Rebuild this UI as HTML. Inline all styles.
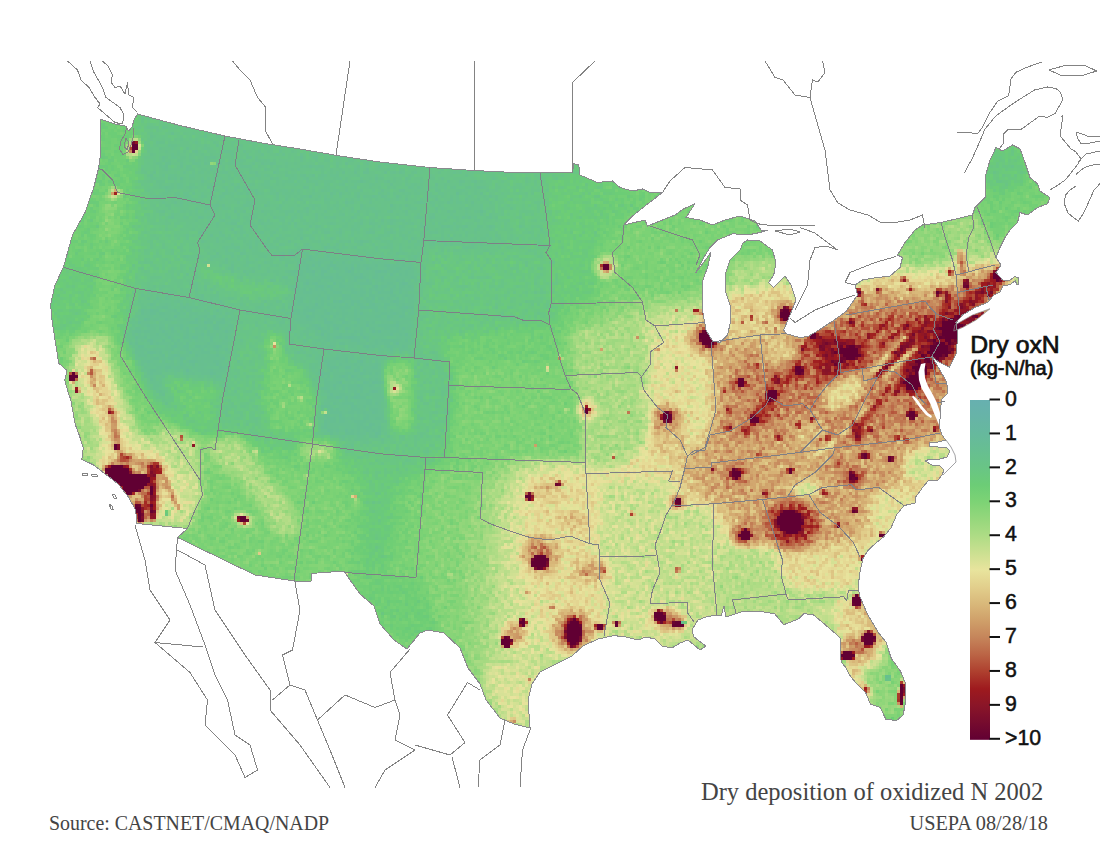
<!DOCTYPE html>
<html><head><meta charset="utf-8"><title>Dry deposition of oxidized N 2002</title>
<style>
html,body{margin:0;padding:0;background:#fff;}
body{width:1100px;height:850px;overflow:hidden;position:relative;font-family:"Liberation Sans",sans-serif;}
svg{position:absolute;left:0;top:0;display:block}
.serif{font-family:"Liberation Serif",serif;fill:#444}
.sans{font-family:"Liberation Sans",sans-serif;fill:#111}
</style></head><body>
<svg width="1100" height="850" viewBox="0 0 1100 850">
<defs>
<clipPath id="us"><path d="M100 119 L106 121 L115 124 L125 126 L129 131 L132 127 L134 120 L137.5 114 L180 125.5 L225 136 L262 143 L300 149 L340 156 L380 162 L430 167.5 L473.75 170.5 L510 172.3 L540 173 L572.5 172.5 L573.75 163.75 L578.75 165 L580 175 L597.5 182.5 L612.5 181 L620 187.5 L632.5 191 L642.5 189 L650 192.5 L662.5 192.5 L645 206 L632.5 216 L623.75 225 L645 220 L647.5 226 L660 221 L675 215 L683.75 208.75 L695 203.75 L686 217.5 L700 220 L712.5 225 L725 220 L740 216 L755 221 L761 230 L767.5 230 L760 232.5 L747.5 235 L732.5 233.75 L717.5 240 L710 247.5 L703.75 257.5 L696 272.5 L704 262 L711 252 L708 266 L703 280 L702.5 290 L702.5 310 L706 330 L712.5 341 L720 342.5 L727.5 335 L731 320 L730 305 L725 290 L725 275 L730 260 L740 250 L743 243 L747.5 240 L760 241 L772.5 250 L776 262.5 L773.75 275 L768.75 282.5 L773.75 287.5 L785 276 L791 285 L796 300 L790 315 L783.75 330 L786 333.75 L800 337.5 L808 336.5 L815 332.5 L833.5 320.5 L846 311.5 L857.5 295 L855 285 L862.5 280 L877.5 277.5 L890 276 L900 267.5 L902.5 257.5 L897.5 255 L905 242.5 L915 230 L922.5 225 L941 222.5 L972.5 215 L975 207.5 L985 197.5 L985 177.5 L990 160 L996 147.5 L1002.5 151 L1012.5 145 L1020 148.75 L1025 162.5 L1030 177.5 L1037.5 183.75 L1040 191 L1050 197.5 L1047.5 203.75 L1037.5 207.5 L1027.5 215 L1020 212.5 L1017.5 222.5 L1010 230 L1005 237.5 L1000 247.5 L996 257.5 L1001 265 L996 272.5 L1002.5 280 L1009 281 L1015 276.5 L1018.5 278 L1019 284 L1016.5 284.5 L1015.5 280.5 L1010 284.5 L1003 286 L1000 292 L994 295 L987.5 302.5 L975 307.5 L962.5 315 L956 322.5 L957 330 L957.7 338 L955.9 354.6 L949.5 367.4 L938.6 362 L932 356.5 L940.4 371 L946.8 382 L947.7 393 L941.3 400 L940.4 416.6 L939 426 L941.5 434 L945.5 440 L938 442 L930 442 L929 446 L938 447 L946 447 L950 451 L947 457 L940 459 L930 459 L925 461 L932 465 L940 466 L944 470 L942 475 L938 480 L928 481 L923 487 L916 496.5 L915 503 L904 505.6 L896.7 514.7 L891.2 527.5 L883.9 536.6 L874.8 544 L867.5 551 L863 558.5 L860.2 571 L858.4 584 L859.3 595 L867.6 614.6 L878.6 632.9 L885.9 642 L891.3 658.4 L900.4 671 L905 682 L905.9 700 L903.2 715 L896.8 720.4 L885.9 719.5 L880.4 707.6 L870.4 704 L865.8 693 L856.7 684 L849.4 674.8 L845.7 667.5 L841.2 662 L840.3 653 L840.3 638 L834.8 633 L822 622 L813 614.6 L803.8 613.7 L798.3 619 L783.8 624.7 L774.6 613.7 L758 611 L744 611 L732 615 L726 617 L724 606 L721 616 L716 615 L706 617 L698 620 L692 630 L694 637 L706 646 L700 650 L688 640 L680 643 L672 648 L662 646 L655 639 L646 637 L638 640 L626 637 L614 635.6 L598 639 L583 646 L572 656 L560 662 L548 668 L540 672 L532 684 L528 700 L530 728 L514 724 L500 718 L486 700 L480 684 L468 668 L460 648 L444 633 L428 630 L420 633 L407 649 L394 640 L380 624 L374 606 L360 594 L350 580 L344 571 L311 573.5 L311 581 L294 581 L255 575 L177.5 537.5 L187.5 528.5 L137 523.5 L135.6 510 L128.4 497 L118.2 484 L105 473.8 L93.5 465 L81.8 459.3 L83.3 447.6 L79 434.5 L75.3 424.7 L70.6 399 L68 392 L64.7 380 L67 370.6 L62 366 L58.8 363.5 L55 340 L52 320 L50.6 304.7 L55 285 L63.5 267 L72.5 235 L85 212.5 L93.75 187.5 L98.75 167.5 L101 150 L100 130Z M955 325 L972.5 315 L990 308.75 L976 320 L962.5 327.5 L953.75 331Z"/></clipPath>
<linearGradient id="lg" x1="0" y1="0" x2="0" y2="1"><stop offset="0%" stop-color="#67b0b0"/><stop offset="5%" stop-color="#67b4a7"/><stop offset="10%" stop-color="#66b99d"/><stop offset="15%" stop-color="#67bf91"/><stop offset="20%" stop-color="#69c585"/><stop offset="25%" stop-color="#6ccd76"/><stop offset="30%" stop-color="#7dd375"/><stop offset="35%" stop-color="#95d77c"/><stop offset="40%" stop-color="#aedc85"/><stop offset="45%" stop-color="#cbe091"/><stop offset="50%" stop-color="#e8e49d"/><stop offset="55%" stop-color="#e2cf8c"/><stop offset="60%" stop-color="#d9b87a"/><stop offset="65%" stop-color="#cf9f69"/><stop offset="70%" stop-color="#c5845a"/><stop offset="75%" stop-color="#bb6445"/><stop offset="80%" stop-color="#ae3f2e"/><stop offset="85%" stop-color="#9e1a1e"/><stop offset="90%" stop-color="#8a1528"/><stop offset="95%" stop-color="#760b2e"/><stop offset="100%" stop-color="#620033"/></linearGradient>
<filter id="cm" x="0" y="0" width="1100" height="850" filterUnits="userSpaceOnUse" color-interpolation-filters="sRGB">
<feTurbulence type="fractalNoise" baseFrequency="0.2" numOctaves="2" seed="7" result="n0"/>
<feColorMatrix in="n0" type="matrix" values="1 0 0 0 0  1 0 0 0 0  1 0 0 0 0  0 0 0 0 1" result="n"/>
<feComposite in="SourceGraphic" in2="n" operator="arithmetic" k1="0.5" k2="0.75" k3="0" k4="0" result="v"/>
<feFlood x="1" y="1" width="1" height="1" flood-color="#000" result="dot"/>
<feComposite in="dot" in2="dot" operator="over" x="0" y="0" width="3" height="3" result="cell"/>
<feTile in="cell" result="grid"/>
<feComposite in="v" in2="grid" operator="in" result="samp"/>
<feMorphology in="samp" operator="dilate" radius="1" result="vp"/>
<feComponentTransfer in="vp">
<feFuncR type="table" tableValues="0.404 0.404 0.400 0.404 0.412 0.424 0.490 0.584 0.682 0.796 0.910 0.886 0.851 0.812 0.773 0.733 0.682 0.620 0.541 0.463 0.384 0.384 0.384 0.384 0.384 0.384"/><feFuncG type="table" tableValues="0.690 0.706 0.725 0.749 0.773 0.804 0.827 0.843 0.863 0.878 0.894 0.812 0.722 0.624 0.518 0.392 0.247 0.102 0.082 0.043 0.000 0.000 0.000 0.000 0.000 0.000"/><feFuncB type="table" tableValues="0.690 0.655 0.616 0.569 0.522 0.463 0.459 0.486 0.522 0.569 0.616 0.549 0.478 0.412 0.353 0.271 0.180 0.118 0.157 0.180 0.200 0.200 0.200 0.200 0.200 0.200"/>
</feComponentTransfer></filter>
<filter id="b14" x="0" y="0" width="1100" height="850" filterUnits="userSpaceOnUse" color-interpolation-filters="sRGB"><feGaussianBlur stdDeviation="11"/></filter>
<filter id="b6" x="0" y="0" width="1100" height="850" filterUnits="userSpaceOnUse" color-interpolation-filters="sRGB"><feGaussianBlur stdDeviation="5"/></filter>
<filter id="b2" x="0" y="0" width="1100" height="850" filterUnits="userSpaceOnUse" color-interpolation-filters="sRGB"><feGaussianBlur stdDeviation="1.8"/></filter>
<radialGradient id="h0"><stop offset="0" stop-color="rgb(255,255,255)"/><stop offset="0.45" stop-color="rgb(255,255,255)"/><stop offset="1" stop-color="rgb(255,255,255)" stop-opacity="0"/></radialGradient>
<radialGradient id="h1"><stop offset="0" stop-color="rgb(114,114,114)"/><stop offset="0.3" stop-color="rgb(114,114,114)"/><stop offset="1" stop-color="rgb(114,114,114)" stop-opacity="0"/></radialGradient>
<radialGradient id="h2"><stop offset="0" stop-color="rgb(92,92,92)"/><stop offset="0.3" stop-color="rgb(92,92,92)"/><stop offset="1" stop-color="rgb(92,92,92)" stop-opacity="0"/></radialGradient>
<radialGradient id="h3"><stop offset="0" stop-color="rgb(184,184,184)"/><stop offset="0.4" stop-color="rgb(184,184,184)"/><stop offset="1" stop-color="rgb(184,184,184)" stop-opacity="0"/></radialGradient>
<radialGradient id="h4"><stop offset="0" stop-color="rgb(255,255,255)"/><stop offset="0.5" stop-color="rgb(255,255,255)"/><stop offset="1" stop-color="rgb(255,255,255)" stop-opacity="0"/></radialGradient>
<radialGradient id="h5"><stop offset="0" stop-color="rgb(173,173,173)"/><stop offset="0.4" stop-color="rgb(173,173,173)"/><stop offset="1" stop-color="rgb(173,173,173)" stop-opacity="0"/></radialGradient>
<radialGradient id="h6"><stop offset="0" stop-color="rgb(143,143,143)"/><stop offset="0.4" stop-color="rgb(143,143,143)"/><stop offset="1" stop-color="rgb(143,143,143)" stop-opacity="0"/></radialGradient>
<radialGradient id="h7"><stop offset="0" stop-color="rgb(235,235,235)"/><stop offset="0.4" stop-color="rgb(235,235,235)"/><stop offset="1" stop-color="rgb(235,235,235)" stop-opacity="0"/></radialGradient>
<radialGradient id="h8"><stop offset="0" stop-color="rgb(255,255,255)"/><stop offset="0.55" stop-color="rgb(255,255,255)"/><stop offset="1" stop-color="rgb(255,255,255)" stop-opacity="0"/></radialGradient>
<radialGradient id="h9"><stop offset="0" stop-color="rgb(102,102,102)"/><stop offset="0.3" stop-color="rgb(102,102,102)"/><stop offset="1" stop-color="rgb(102,102,102)" stop-opacity="0"/></radialGradient>
<radialGradient id="h10"><stop offset="0" stop-color="rgb(112,112,112)"/><stop offset="0.3" stop-color="rgb(112,112,112)"/><stop offset="1" stop-color="rgb(112,112,112)" stop-opacity="0"/></radialGradient>
<radialGradient id="h11"><stop offset="0" stop-color="rgb(184,184,184)"/><stop offset="0.5" stop-color="rgb(184,184,184)"/><stop offset="1" stop-color="rgb(184,184,184)" stop-opacity="0"/></radialGradient>
<radialGradient id="h12"><stop offset="0" stop-color="rgb(98,98,98)"/><stop offset="0.25" stop-color="rgb(98,98,98)"/><stop offset="1" stop-color="rgb(98,98,98)" stop-opacity="0"/></radialGradient>
<radialGradient id="h13"><stop offset="0" stop-color="rgb(69,69,69)"/><stop offset="0.3" stop-color="rgb(69,69,69)"/><stop offset="1" stop-color="rgb(69,69,69)" stop-opacity="0"/></radialGradient>
<radialGradient id="h14"><stop offset="0" stop-color="rgb(153,153,153)"/><stop offset="0.4" stop-color="rgb(153,153,153)"/><stop offset="1" stop-color="rgb(153,153,153)" stop-opacity="0"/></radialGradient>
<radialGradient id="h15"><stop offset="0" stop-color="rgb(73,73,73)"/><stop offset="0.3" stop-color="rgb(73,73,73)"/><stop offset="1" stop-color="rgb(73,73,73)" stop-opacity="0"/></radialGradient>
<radialGradient id="h16"><stop offset="0" stop-color="rgb(82,82,82)"/><stop offset="0.4" stop-color="rgb(82,82,82)"/><stop offset="1" stop-color="rgb(82,82,82)" stop-opacity="0"/></radialGradient>
<radialGradient id="h17"><stop offset="0" stop-color="rgb(80,80,80)"/><stop offset="0.4" stop-color="rgb(80,80,80)"/><stop offset="1" stop-color="rgb(80,80,80)" stop-opacity="0"/></radialGradient>
<radialGradient id="h18"><stop offset="0" stop-color="rgb(86,86,86)"/><stop offset="0.4" stop-color="rgb(86,86,86)"/><stop offset="1" stop-color="rgb(86,86,86)" stop-opacity="0"/></radialGradient>
<radialGradient id="h19"><stop offset="0" stop-color="rgb(31,31,31)"/><stop offset="0.5" stop-color="rgb(31,31,31)"/><stop offset="1" stop-color="rgb(31,31,31)" stop-opacity="0"/></radialGradient>
<radialGradient id="h20"><stop offset="0" stop-color="rgb(106,106,106)"/><stop offset="0.2" stop-color="rgb(106,106,106)"/><stop offset="1" stop-color="rgb(106,106,106)" stop-opacity="0"/></radialGradient>
<radialGradient id="h21"><stop offset="0" stop-color="rgb(255,255,255)"/><stop offset="0.6" stop-color="rgb(255,255,255)"/><stop offset="1" stop-color="rgb(255,255,255)" stop-opacity="0"/></radialGradient>
<radialGradient id="h22"><stop offset="0" stop-color="rgb(153,153,153)"/><stop offset="0.3" stop-color="rgb(153,153,153)"/><stop offset="1" stop-color="rgb(153,153,153)" stop-opacity="0"/></radialGradient>
<radialGradient id="h23"><stop offset="0" stop-color="rgb(139,139,139)"/><stop offset="0.4" stop-color="rgb(139,139,139)"/><stop offset="1" stop-color="rgb(139,139,139)" stop-opacity="0"/></radialGradient>
<radialGradient id="h24"><stop offset="0" stop-color="rgb(147,147,147)"/><stop offset="0.4" stop-color="rgb(147,147,147)"/><stop offset="1" stop-color="rgb(147,147,147)" stop-opacity="0"/></radialGradient>
<radialGradient id="h25"><stop offset="0" stop-color="rgb(126,126,126)"/><stop offset="0.4" stop-color="rgb(126,126,126)"/><stop offset="1" stop-color="rgb(126,126,126)" stop-opacity="0"/></radialGradient>
<radialGradient id="h26"><stop offset="0" stop-color="rgb(114,114,114)"/><stop offset="0.4" stop-color="rgb(114,114,114)"/><stop offset="1" stop-color="rgb(114,114,114)" stop-opacity="0"/></radialGradient>
<radialGradient id="h27"><stop offset="0" stop-color="rgb(163,163,163)"/><stop offset="0.4" stop-color="rgb(163,163,163)"/><stop offset="1" stop-color="rgb(163,163,163)" stop-opacity="0"/></radialGradient>
<radialGradient id="h28"><stop offset="0" stop-color="rgb(112,112,112)"/><stop offset="0.4" stop-color="rgb(112,112,112)"/><stop offset="1" stop-color="rgb(112,112,112)" stop-opacity="0"/></radialGradient>
<radialGradient id="h29"><stop offset="0" stop-color="rgb(235,235,235)"/><stop offset="0.5" stop-color="rgb(235,235,235)"/><stop offset="1" stop-color="rgb(235,235,235)" stop-opacity="0"/></radialGradient>
<radialGradient id="h30"><stop offset="0" stop-color="rgb(122,122,122)"/><stop offset="0.2" stop-color="rgb(122,122,122)"/><stop offset="1" stop-color="rgb(122,122,122)" stop-opacity="0"/></radialGradient>
<radialGradient id="h31"><stop offset="0" stop-color="rgb(143,143,143)"/><stop offset="0.3" stop-color="rgb(143,143,143)"/><stop offset="1" stop-color="rgb(143,143,143)" stop-opacity="0"/></radialGradient>
<radialGradient id="h32"><stop offset="0" stop-color="rgb(133,133,133)"/><stop offset="0.4" stop-color="rgb(133,133,133)"/><stop offset="1" stop-color="rgb(133,133,133)" stop-opacity="0"/></radialGradient>
<radialGradient id="h33"><stop offset="0" stop-color="rgb(194,194,194)"/><stop offset="0.4" stop-color="rgb(194,194,194)"/><stop offset="1" stop-color="rgb(194,194,194)" stop-opacity="0"/></radialGradient>
<radialGradient id="h34"><stop offset="0" stop-color="rgb(118,118,118)"/><stop offset="0.3" stop-color="rgb(118,118,118)"/><stop offset="1" stop-color="rgb(118,118,118)" stop-opacity="0"/></radialGradient>
<radialGradient id="h35"><stop offset="0" stop-color="rgb(133,133,133)"/><stop offset="0.3" stop-color="rgb(133,133,133)"/><stop offset="1" stop-color="rgb(133,133,133)" stop-opacity="0"/></radialGradient>
<radialGradient id="h36"><stop offset="0" stop-color="rgb(147,147,147)"/><stop offset="0.3" stop-color="rgb(147,147,147)"/><stop offset="1" stop-color="rgb(147,147,147)" stop-opacity="0"/></radialGradient>
<radialGradient id="h37"><stop offset="0" stop-color="rgb(255,255,255)"/><stop offset="0.75" stop-color="rgb(255,255,255)"/><stop offset="1" stop-color="rgb(255,255,255)" stop-opacity="0"/></radialGradient>
<radialGradient id="h38"><stop offset="0" stop-color="rgb(175,175,175)"/><stop offset="0.42" stop-color="rgb(175,175,175)"/><stop offset="1" stop-color="rgb(175,175,175)" stop-opacity="0"/></radialGradient>
<radialGradient id="h39"><stop offset="0" stop-color="rgb(194,194,194)"/><stop offset="0.45" stop-color="rgb(194,194,194)"/><stop offset="1" stop-color="rgb(194,194,194)" stop-opacity="0"/></radialGradient>
<radialGradient id="h40"><stop offset="0" stop-color="rgb(163,163,163)"/><stop offset="0.3" stop-color="rgb(163,163,163)"/><stop offset="1" stop-color="rgb(163,163,163)" stop-opacity="0"/></radialGradient>
<radialGradient id="h41"><stop offset="0" stop-color="rgb(220,220,220)"/><stop offset="0.4" stop-color="rgb(220,220,220)"/><stop offset="1" stop-color="rgb(220,220,220)" stop-opacity="0"/></radialGradient>
<radialGradient id="h42"><stop offset="0" stop-color="rgb(159,159,159)"/><stop offset="0.3" stop-color="rgb(159,159,159)"/><stop offset="1" stop-color="rgb(159,159,159)" stop-opacity="0"/></radialGradient>
<radialGradient id="h43"><stop offset="0" stop-color="rgb(200,200,200)"/><stop offset="0.4" stop-color="rgb(200,200,200)"/><stop offset="1" stop-color="rgb(200,200,200)" stop-opacity="0"/></radialGradient>
<radialGradient id="h44"><stop offset="0" stop-color="rgb(210,210,210)"/><stop offset="0.4" stop-color="rgb(210,210,210)"/><stop offset="1" stop-color="rgb(210,210,210)" stop-opacity="0"/></radialGradient>
<radialGradient id="h45"><stop offset="0" stop-color="rgb(255,255,255)"/><stop offset="0.65" stop-color="rgb(255,255,255)"/><stop offset="1" stop-color="rgb(255,255,255)" stop-opacity="0"/></radialGradient>
<radialGradient id="h46"><stop offset="0" stop-color="rgb(180,180,180)"/><stop offset="0.3" stop-color="rgb(180,180,180)"/><stop offset="1" stop-color="rgb(180,180,180)" stop-opacity="0"/></radialGradient>
<radialGradient id="h47"><stop offset="0" stop-color="rgb(175,175,175)"/><stop offset="0.3" stop-color="rgb(175,175,175)"/><stop offset="1" stop-color="rgb(175,175,175)" stop-opacity="0"/></radialGradient>
<radialGradient id="h48"><stop offset="0" stop-color="rgb(173,173,173)"/><stop offset="0.3" stop-color="rgb(173,173,173)"/><stop offset="1" stop-color="rgb(173,173,173)" stop-opacity="0"/></radialGradient>
<radialGradient id="h49"><stop offset="0" stop-color="rgb(171,171,171)"/><stop offset="0.3" stop-color="rgb(171,171,171)"/><stop offset="1" stop-color="rgb(171,171,171)" stop-opacity="0"/></radialGradient>
<radialGradient id="h50"><stop offset="0" stop-color="rgb(169,169,169)"/><stop offset="0.3" stop-color="rgb(169,169,169)"/><stop offset="1" stop-color="rgb(169,169,169)" stop-opacity="0"/></radialGradient>
<radialGradient id="h51"><stop offset="0" stop-color="rgb(167,167,167)"/><stop offset="0.3" stop-color="rgb(167,167,167)"/><stop offset="1" stop-color="rgb(167,167,167)" stop-opacity="0"/></radialGradient>
</defs>
<rect width="1100" height="850" fill="#fff"/>
<g clip-path="url(#us)">
<g filter="url(#cm)">
<rect x="0" y="0" width="1100" height="850" fill="rgb(61,61,61)"/>
<g filter="url(#b14)">
<polygon fill="rgb(41,41,41)" points="120,100 600,150 600,215 565,300 545,340 500,360 470,420 440,460 410,480 370,470 320,460 280,450 230,440 190,430 150,400 120,340 125,280 135,200 125,150"/>
<polygon fill="rgb(36,36,36)" points="150,135 300,150 430,170 490,172 500,230 480,290 440,320 420,360 380,380 370,440 330,440 300,360 260,330 230,300 225,380 215,430 180,410 150,370 135,310 150,280 190,290 200,240 170,220 145,200"/>
<polygon fill="rgb(45,45,45)" points="350,450 400,455 395,520 385,575 360,575 362,510"/>
<polygon fill="rgb(51,51,51)" points="560,170 660,190 640,215 600,240 560,240"/>
<polygon fill="rgb(73,73,73)" points="640,230 700,240 760,235 780,260 760,300 700,300 650,300 600,310 570,360 560,420 520,450 472,480 458,540 450,600 455,650 490,725 560,740 560,660 620,640 700,650 760,620 830,630 900,650 920,720 1000,700 1000,400 1060,250 1000,230 960,210 900,240 850,270 800,250 780,230"/>
<polygon fill="rgb(92,92,92)" points="700,300 655,305 615,330 585,380 570,440 525,455 497,490 492,560 490,640 498,700 515,730 540,730 545,680 580,655 640,648 700,655 720,625 760,618 800,628 840,645 850,600 870,560 920,520 970,470 980,300 1030,290 1000,250 960,250 930,255 880,265 840,285 800,295 780,270 750,280"/>
<polygon fill="rgb(106,106,106)" points="705,320 660,335 645,380 655,420 640,455 600,470 540,470 520,500 522,560 535,620 565,660 600,640 612,590 600,540 640,500 680,490 720,520 750,560 800,570 850,575 880,540 920,505 960,465 965,310 1010,292 1000,262 960,265 930,270 880,275 850,290 800,300 780,285 740,300"/>
<polygon fill="rgb(129,129,129)" points="715,340 700,380 705,430 680,460 690,500 720,510 740,550 780,565 830,560 870,530 900,500 940,470 960,430 960,320 1005,290 1000,265 970,272 950,290 900,292 860,296 830,315 790,310 760,335"/>
<polygon fill="rgb(143,143,143)" points="745,360 740,400 720,435 750,442 780,425 800,442 830,442 860,448 900,432 930,432 945,400 960,340 1005,285 1000,262 975,275 955,285 940,298 900,303 858,300 835,315 800,335 770,340"/>
<polygon fill="rgb(153,153,153)" points="805,335 800,375 815,405 840,378 860,362 868,340 890,326 905,345 900,372 910,398 925,390 945,362 960,335 990,298 975,290 955,300 940,308 905,306 870,314 840,322"/>
</g>
<g filter="url(#b6)">
<polygon fill="rgb(31,31,31)" points="300,255 415,265 410,350 330,345 292,318"/>
<polygon fill="rgb(31,31,31)" points="322,355 385,360 385,440 316,436"/>
<polygon fill="rgb(32,32,32)" points="145,300 235,315 222,400 190,420 150,390 125,340"/>
<polygon fill="rgb(94,94,94)" points="75,338 110,338 125,380 150,430 200,440 202,495 190,528 135,525 100,470 80,455 68,400"/>
<polygon fill="rgb(114,114,114)" points="85,350 100,355 112,400 125,440 135,460 120,470 105,440 92,400"/>
<polygon fill="rgb(129,129,129)" points="100,460 135,454 165,458 168,485 160,510 140,520 120,495"/>
<polygon fill="rgb(86,86,86)" points="150,420 200,440 200,480 160,460"/>
<polygon fill="rgb(61,61,61)" points="105,345 125,345 150,410 160,440 140,435 125,400"/>
<polygon fill="rgb(78,78,78)" points="69,396 84,394 101,442 92,458 80,442"/>
<polygon fill="rgb(82,82,82)" points="205,440 240,435 262,470 290,500 300,530 280,540 262,510 240,480 215,465"/>
<polygon fill="rgb(53,53,53)" points="98,118 138,114 136,170 122,200 112,250 100,270 62,260 90,195 98,150"/>
<polygon fill="rgb(48,48,48)" points="62,260 100,270 95,300 78,338 52,332 47,300"/>
<polygon fill="rgb(51,51,51)" points="160,375 222,385 215,430 180,415"/>
<polygon fill="rgb(69,69,69)" points="105,192 117,192 112,238 101,242"/>
<polygon fill="rgb(47,47,47)" points="200,262 240,280 285,285 290,298 240,298 200,278"/>
<polygon fill="rgb(65,65,65)" points="266,334 280,334 284,365 278,366 268,360"/>
<polygon fill="rgb(57,57,57)" points="265,365 300,365 318,400 315,435 270,432 262,400"/>
<polygon fill="rgb(67,67,67)" points="390,360 412,360 412,430 392,430"/>
<polygon fill="rgb(78,78,78)" points="300,440 335,442 335,462 300,460"/>
<polygon fill="rgb(53,53,53)" points="350,575 420,580 440,632 410,648 380,620"/>
<polygon fill="rgb(78,78,78)" points="432,530 472,525 476,600 442,600"/>
<polygon fill="rgb(43,43,43)" points="425,250 548,250 552,325 455,350 415,352"/>
<polygon fill="rgb(49,49,49)" points="548,178 598,186 596,300 552,303"/>
<polygon fill="rgb(55,55,55)" points="440,338 556,322 560,372 450,372"/>
<polygon fill="rgb(61,61,61)" points="455,365 560,365 580,400 583,460 450,455"/>
<polygon fill="rgb(65,65,65)" points="430,470 468,475 466,520 468,560 460,640 450,645 440,630 420,575"/>
<polygon fill="rgb(80,80,80)" points="570,330 640,320 650,370 640,400 655,430 620,465 590,465 585,400"/>
<polygon fill="rgb(102,102,102)" points="655,345 708,345 712,410 700,445 680,440 660,400"/>
<polygon fill="rgb(92,92,92)" points="600,480 670,480 660,540 650,600 610,600 600,545"/>
<polygon fill="rgb(90,90,90)" points="665,510 712,506 712,600 655,600 660,545"/>
<polygon fill="rgb(94,94,94)" points="610,605 650,605 690,640 660,648 610,636"/>
<polygon fill="rgb(96,96,96)" points="485,660 540,672 530,728 505,720 485,690"/>
<polygon fill="rgb(122,122,122)" points="560,514 588,516 588,528 560,526"/>
<polygon fill="rgb(129,129,129)" points="575,562 608,562 608,580 575,580"/>
<polygon fill="rgb(61,61,61)" points="625,222 700,215 765,225 770,255 735,262 725,250 700,260 690,290 640,290 615,260"/>
<polygon fill="rgb(82,82,82)" points="730,262 775,258 778,285 730,290"/>
<polygon fill="rgb(112,112,112)" points="728,292 790,285 795,315 785,333 728,336"/>
<polygon fill="rgb(118,118,118)" points="650,415 685,410 688,450 660,458 648,440"/>
<polygon fill="rgb(84,84,84)" points="715,575 780,570 850,580 848,600 800,615 740,612 716,612"/>
<polygon fill="rgb(86,86,86)" points="720,545 780,548 785,580 720,580"/>
<polygon fill="rgb(110,110,110)" points="835,600 862,600 885,640 880,668 850,672 838,640"/>
<polygon fill="rgb(71,71,71)" points="860,672 890,660 900,690 895,720 880,715 866,695"/>
<polygon fill="rgb(106,106,106)" points="775,555 800,550 850,545 862,560 858,590 800,590 780,580"/>
<polygon fill="rgb(82,82,82)" points="792,488 812,480 822,490 800,498"/>
<polygon fill="rgb(92,92,92)" points="905,455 945,440 955,458 925,482 905,480"/>
<polygon fill="rgb(102,102,102)" points="870,495 905,485 915,500 890,525 870,530"/>
<polygon fill="rgb(143,143,143)" points="845,664 852,661 871,700 865,704"/>
<polygon fill="rgb(143,143,143)" points="857,596 864,596 889,642 883,646"/>
<polygon fill="rgb(69,69,69)" points="905,235 940,222 955,240 950,262 915,266 900,258"/>
<polygon fill="rgb(78,78,78)" points="945,222 975,212 985,240 990,255 960,262 950,245"/>
<polygon fill="rgb(57,57,57)" points="980,170 1000,145 1030,165 1045,198 1020,215 1000,245 990,235 980,205"/>
<polygon fill="rgb(45,45,45)" points="985,150 1020,145 1028,180 1000,195 985,185"/>
<polygon fill="rgb(122,122,122)" points="790,425 820,410 830,440 800,455"/>
<polygon fill="rgb(133,133,133)" points="932,360 948,385 946,400 938,405"/>
<polygon fill="rgb(137,137,137)" points="846,312 860,292 885,284 895,300 870,312"/>
<polygon fill="rgb(114,114,114)" points="763,338 795,338 795,362 765,364"/>
<polygon fill="rgb(112,112,112)" points="861,284 900,272 906,284 866,297"/>
<polygon fill="rgb(106,106,106)" points="821.6,394.8 834.8,381.6 857.9,375 867.7,381.6 857.9,398 844.7,408 828.2,411.3"/>
<polygon fill="rgb(190,190,190)" points="811.8,332 825,335.5 838,339 864.5,342 864.5,362 844.7,365 834.8,378 825,378 821.6,355 811.8,342"/>
<polygon fill="rgb(200,200,200)" points="902,386 908,366 924,352 936,335 942,318 953,310 963,314 960,340 953,356 943,362 932,366 925,376 918,392 908,394"/>
<polygon fill="rgb(175,175,175)" points="893,352 908,328 930,312 940,330 922,352 905,366"/>
<polygon fill="rgb(188,188,188)" points="956,305 975,292 992,275 1004,266 1008,276 996,292 978,304 960,318"/>
<polygon fill="rgb(180,180,180)" points="822,350 836,348 838,375 828,382 820,372"/>
<polygon fill="rgb(175,175,175)" points="750,422 768,395 776,375 785,378 777,400 758,428"/>
</g>
<g filter="url(#b2)">
<polygon fill="rgb(112,112,112)" points="868,372 905,335 909,338 872,376"/>
<polygon fill="rgb(108,108,108)" points="880,376 915,345 918,348 884,380"/>
<polygon fill="rgb(114,114,114)" points="838,434 864,404 868,407 842,438"/>
<polygon fill="rgb(102,102,102)" points="812,455 835,438 838,442 815,459"/>
<polygon fill="rgb(190,190,190)" points="875,375 912,340 915,343 879,379"/>
<polygon fill="rgb(175,175,175)" points="858,425 890,385 893,388 861,429"/>
<polygon fill="rgb(188,188,188)" points="893,395 903,375 906,377 896,397"/>
<polygon fill="rgb(184,184,184)" points="851,418 864,430 860,444 852,436"/>
<polygon fill="rgb(175,175,175)" points="942,290 950,290 953,318 945,318"/>
<polygon fill="rgb(143,143,143)" points="957,250 964,250 967,278 960,278"/>
<polygon fill="rgb(255,255,255)" points="103.6,468 118.2,465 129.8,468 129.8,473.8 147.3,475.3 148.7,482.5 141.5,489.8 135.6,491.3 128.4,495.6 118.2,484 108,476.7"/>
<polygon fill="rgb(196,196,196)" points="148.5,464 155,464 156,520 149.5,521"/>
<polygon fill="rgb(245,245,245)" points="135,503 141.5,505 143,523 137,523"/>
<polygon fill="rgb(163,163,163)" points="143,492 147,492 148,521 144,521"/>
<polygon fill="rgb(180,180,180)" points="150,462 161,463 162,473 151,474"/>
<polygon fill="rgb(163,163,163)" points="118,453.5 133,455 132,462 119,461"/>
<polygon fill="rgb(139,139,139)" points="162,478 166,476 181,508 177,511"/>
<polygon fill="rgb(143,143,143)" points="108,405 113,405 122,450 116,452"/>
<polygon fill="rgb(159,159,159)" points="89.5,369 92.5,369 95.5,388 92.5,388"/>
<polygon fill="rgb(184,184,184)" points="876.5,347.5 909.5,321 911.5,323.5 878.7,350"/>
<polygon fill="rgb(184,184,184)" points="889.7,354 922.6,324.4 924.8,326.8 892,356.5"/>
<polygon fill="rgb(180,180,180)" points="863.5,341 893,314.6 895,317 865.5,343.2"/>
<polygon fill="rgb(196,196,196)" points="955,325 972.5,315 990,308.75 976,320 962.5,327.5 953.75,331"/>
</g>
<ellipse cx="792" cy="524" rx="34" ry="31" fill="url(#h38)"/>
<ellipse cx="573" cy="632" rx="26" ry="28" fill="url(#h22)"/>
<ellipse cx="540" cy="555" rx="24" ry="26" fill="url(#h31)"/>
<ellipse cx="708" cy="338" rx="24" ry="22" fill="url(#h22)"/>
<ellipse cx="668" cy="620" rx="24" ry="15" fill="url(#h36)" transform="rotate(15 668 620)"/>
<ellipse cx="544" cy="490" rx="22" ry="16" fill="url(#h34)"/>
<ellipse cx="856" cy="648" rx="22" ry="16" fill="url(#h31)"/>
<ellipse cx="667" cy="417" rx="18" ry="18" fill="url(#h31)"/>
<ellipse cx="515" cy="634" rx="18" ry="16" fill="url(#h35)" transform="rotate(30 515 634)"/>
<ellipse cx="736" cy="474" rx="18" ry="16" fill="url(#h22)"/>
<ellipse cx="745" cy="535" rx="18" ry="16" fill="url(#h22)"/>
<ellipse cx="606" cy="267" rx="16" ry="16" fill="url(#h20)"/>
<ellipse cx="785.4" cy="314" rx="16" ry="16" fill="url(#h22)"/>
<ellipse cx="391" cy="385" rx="9" ry="28" fill="url(#h13)" transform="rotate(-8 391 385)"/>
<ellipse cx="853" cy="477" rx="18" ry="14" fill="url(#h42)"/>
<ellipse cx="798" cy="370" rx="16" ry="14" fill="url(#h40)"/>
<ellipse cx="587" cy="410" rx="14" ry="14" fill="url(#h30)"/>
<ellipse cx="741" cy="383" rx="14" ry="14" fill="url(#h22)"/>
<ellipse cx="790" cy="522" rx="13.5" ry="13.5" fill="url(#h37)"/>
<ellipse cx="573.6" cy="632.4" rx="10" ry="17" fill="url(#h21)"/>
<ellipse cx="677.8" cy="502" rx="12" ry="12" fill="url(#h35)"/>
<ellipse cx="134" cy="148" rx="10" ry="14" fill="url(#h1)" transform="rotate(15 134 148)"/>
<ellipse cx="243" cy="519.5" rx="14" ry="10" fill="url(#h9)" transform="rotate(20 243 519.5)"/>
<ellipse cx="950" cy="329" rx="11" ry="11" fill="url(#h45)"/>
<ellipse cx="708" cy="338" rx="10" ry="11" fill="url(#h21)" transform="rotate(-30 708 338)"/>
<ellipse cx="540" cy="562" rx="10" ry="9" fill="url(#h21)"/>
<ellipse cx="913" cy="383" rx="9" ry="9" fill="url(#h21)"/>
<ellipse cx="851" cy="353.6" rx="10" ry="8" fill="url(#h4)"/>
<ellipse cx="115" cy="193" rx="9" ry="8" fill="url(#h2)"/>
<ellipse cx="394.8" cy="388.3" rx="8" ry="9" fill="url(#h12)"/>
<ellipse cx="868.7" cy="639" rx="8" ry="9" fill="url(#h21)"/>
<ellipse cx="901.6" cy="693.6" rx="4" ry="16" fill="url(#h8)" transform="rotate(5 901.6 693.6)"/>
<ellipse cx="940.2" cy="348.7" rx="8" ry="8" fill="url(#h21)"/>
<ellipse cx="660" cy="616.5" rx="8" ry="7" fill="url(#h8)" transform="rotate(30 660 616.5)"/>
<ellipse cx="785.4" cy="314" rx="7" ry="8" fill="url(#h21)"/>
<ellipse cx="999" cy="275" rx="8" ry="7" fill="url(#h4)"/>
<ellipse cx="847" cy="655.7" rx="9" ry="6" fill="url(#h8)"/>
<ellipse cx="667" cy="417" rx="7" ry="7" fill="url(#h4)"/>
<ellipse cx="506.5" cy="642" rx="7" ry="7" fill="url(#h8)"/>
<ellipse cx="745" cy="535" rx="7" ry="7" fill="url(#h4)"/>
<ellipse cx="772" cy="395" rx="7" ry="7" fill="url(#h4)"/>
<ellipse cx="920" cy="371" rx="7" ry="7" fill="url(#h8)"/>
<ellipse cx="857" cy="601" rx="6" ry="8" fill="url(#h8)"/>
<ellipse cx="736" cy="474" rx="6.5" ry="6.5" fill="url(#h4)"/>
<ellipse cx="356" cy="502" rx="4" ry="10" fill="url(#h15)" transform="rotate(-8 356 502)"/>
<ellipse cx="853" cy="477" rx="6.5" ry="6" fill="url(#h41)"/>
<ellipse cx="754" cy="419.5" rx="6" ry="6" fill="url(#h29)"/>
<ellipse cx="798.6" cy="370" rx="6" ry="6" fill="url(#h29)"/>
<ellipse cx="912" cy="414.6" rx="6" ry="6" fill="url(#h29)"/>
<ellipse cx="857.9" cy="293" rx="6" ry="6" fill="url(#h39)"/>
<ellipse cx="805" cy="348.7" rx="6" ry="6" fill="url(#h46)"/>
<ellipse cx="818.3" cy="365" rx="6" ry="6" fill="url(#h46)"/>
<ellipse cx="745.9" cy="431" rx="6" ry="6" fill="url(#h47)"/>
<ellipse cx="851.3" cy="322.3" rx="6" ry="6" fill="url(#h46)"/>
<ellipse cx="73" cy="377" rx="5" ry="7" fill="url(#h4)" transform="rotate(10 73 377)"/>
<ellipse cx="678" cy="624" rx="7" ry="5" fill="url(#h4)"/>
<ellipse cx="864.5" cy="455.7" rx="7" ry="5" fill="url(#h43)"/>
<ellipse cx="966.6" cy="284" rx="5" ry="7" fill="url(#h39)"/>
<ellipse cx="134" cy="147" rx="4" ry="8" fill="url(#h0)" transform="rotate(15 134 147)"/>
<ellipse cx="243" cy="519.5" rx="6.5" ry="4.8" fill="url(#h8)" transform="rotate(20 243 519.5)"/>
<ellipse cx="606" cy="267" rx="5.5" ry="5.5" fill="url(#h4)"/>
<ellipse cx="741" cy="383" rx="5.5" ry="5.5" fill="url(#h29)"/>
<ellipse cx="529.5" cy="496.5" rx="5" ry="6" fill="url(#h7)"/>
<ellipse cx="523" cy="622.5" rx="5" ry="6" fill="url(#h29)"/>
<ellipse cx="600" cy="627" rx="6" ry="5" fill="url(#h29)"/>
<ellipse cx="777" cy="380" rx="5" ry="6" fill="url(#h39)"/>
<ellipse cx="812" cy="334" rx="6" ry="5" fill="url(#h29)"/>
<ellipse cx="586" cy="572.4" rx="5" ry="5" fill="url(#h23)"/>
<ellipse cx="677.8" cy="502" rx="5" ry="5" fill="url(#h4)"/>
<ellipse cx="728" cy="428" rx="5" ry="5" fill="url(#h3)"/>
<ellipse cx="854.6" cy="510" rx="5" ry="5" fill="url(#h39)"/>
<ellipse cx="938.6" cy="292.7" rx="5" ry="5" fill="url(#h39)"/>
<ellipse cx="870" cy="430" rx="5" ry="5" fill="url(#h5)"/>
<ellipse cx="788.7" cy="378.3" rx="5" ry="5" fill="url(#h47)"/>
<ellipse cx="729.4" cy="411.3" rx="5" ry="5" fill="url(#h48)"/>
<ellipse cx="765.6" cy="404.7" rx="5" ry="5" fill="url(#h47)"/>
<ellipse cx="778.8" cy="437.6" rx="5" ry="5" fill="url(#h49)"/>
<ellipse cx="798.6" cy="424.5" rx="5" ry="5" fill="url(#h49)"/>
<ellipse cx="828.2" cy="437.6" rx="5" ry="5" fill="url(#h48)"/>
<ellipse cx="871" cy="335.5" rx="5" ry="5" fill="url(#h46)"/>
<ellipse cx="838" cy="464" rx="5" ry="5" fill="url(#h48)"/>
<ellipse cx="812" cy="420" rx="5" ry="5" fill="url(#h49)"/>
<ellipse cx="890.8" cy="459" rx="5.5" ry="4.5" fill="url(#h44)"/>
<ellipse cx="512" cy="721" rx="6" ry="4" fill="url(#h23)"/>
<ellipse cx="825" cy="493.6" rx="6" ry="4" fill="url(#h5)" transform="rotate(30 825 493.6)"/>
<ellipse cx="866" cy="690" rx="4" ry="6" fill="url(#h5)"/>
<ellipse cx="885" cy="625" rx="4" ry="6" fill="url(#h14)"/>
<ellipse cx="887.7" cy="677.5" rx="4.5" ry="4.5" fill="url(#h19)"/>
<ellipse cx="703" cy="312" rx="4" ry="5" fill="url(#h5)"/>
<ellipse cx="558.4" cy="484" rx="5" ry="4" fill="url(#h33)"/>
<ellipse cx="765.6" cy="493.6" rx="5" ry="4" fill="url(#h3)"/>
<ellipse cx="790.3" cy="470.6" rx="5" ry="4" fill="url(#h33)"/>
<ellipse cx="989.6" cy="292.7" rx="5" ry="4" fill="url(#h33)"/>
<ellipse cx="950" cy="272" rx="4" ry="5" fill="url(#h5)"/>
<ellipse cx="879" cy="290" rx="5" ry="4" fill="url(#h5)"/>
<ellipse cx="904" cy="279.5" rx="5" ry="4" fill="url(#h5)"/>
<ellipse cx="760" cy="455" rx="5" ry="4" fill="url(#h51)"/>
<ellipse cx="255" cy="452" rx="3" ry="6" fill="url(#h18)"/>
<ellipse cx="586.8" cy="410" rx="3.6" ry="4.8" fill="url(#h29)"/>
<ellipse cx="116" cy="447" rx="4" ry="4" fill="url(#h7)"/>
<ellipse cx="603.6" cy="570" rx="4" ry="4" fill="url(#h14)"/>
<ellipse cx="696" cy="311" rx="4" ry="4" fill="url(#h5)"/>
<ellipse cx="838" cy="525" rx="4" ry="4" fill="url(#h3)"/>
<ellipse cx="882" cy="535" rx="4" ry="4" fill="url(#h33)"/>
<ellipse cx="910.6" cy="289" rx="4" ry="4" fill="url(#h5)"/>
<ellipse cx="864.5" cy="305.9" rx="4" ry="4" fill="url(#h48)"/>
<ellipse cx="713" cy="470.6" rx="4" ry="4" fill="url(#h50)"/>
<ellipse cx="897.4" cy="437.6" rx="4" ry="4" fill="url(#h48)"/>
<ellipse cx="725" cy="390" rx="4" ry="4" fill="url(#h51)"/>
<ellipse cx="757" cy="365" rx="4" ry="4" fill="url(#h51)"/>
<ellipse cx="905" cy="440" rx="4" ry="4" fill="url(#h27)"/>
<ellipse cx="310" cy="425" rx="5" ry="3" fill="url(#h16)"/>
<ellipse cx="306.5" cy="476.5" rx="3" ry="5" fill="url(#h17)"/>
<ellipse cx="115" cy="193" rx="4" ry="3.5" fill="url(#h3)"/>
<ellipse cx="77" cy="390" rx="3.5" ry="4" fill="url(#h3)"/>
<ellipse cx="616.7" cy="623.6" rx="4" ry="3.5" fill="url(#h29)"/>
<ellipse cx="935" cy="429" rx="4" ry="3.5" fill="url(#h33)"/>
<ellipse cx="632" cy="514" rx="3.5" ry="3.5" fill="url(#h14)"/>
<ellipse cx="678" cy="570" rx="3.5" ry="3.5" fill="url(#h27)"/>
<ellipse cx="862" cy="558" rx="3.5" ry="3.5" fill="url(#h33)"/>
<ellipse cx="110.6" cy="412" rx="3" ry="4" fill="url(#h3)"/>
<ellipse cx="300" cy="398" rx="3" ry="4" fill="url(#h16)"/>
<ellipse cx="325" cy="412" rx="4" ry="3" fill="url(#h16)"/>
<ellipse cx="676.4" cy="368" rx="3" ry="3.5" fill="url(#h5)"/>
<ellipse cx="273.7" cy="346" rx="2.5" ry="4" fill="url(#h6)"/>
<ellipse cx="683" cy="622" rx="4" ry="2.5" fill="url(#h19)"/>
<ellipse cx="93" cy="358" rx="3" ry="3" fill="url(#h5)"/>
<ellipse cx="181" cy="438" rx="3" ry="3" fill="url(#h3)"/>
<ellipse cx="193.5" cy="445" rx="3" ry="3" fill="url(#h3)"/>
<ellipse cx="259" cy="553" rx="3" ry="3" fill="url(#h10)"/>
<ellipse cx="290" cy="385" rx="3" ry="3" fill="url(#h16)"/>
<ellipse cx="283" cy="405" rx="3" ry="3" fill="url(#h16)"/>
<ellipse cx="447" cy="540" rx="3" ry="3" fill="url(#h16)"/>
<ellipse cx="450" cy="575" rx="3" ry="3" fill="url(#h18)"/>
<ellipse cx="345" cy="574" rx="3" ry="3" fill="url(#h10)"/>
<ellipse cx="320" cy="452" rx="3" ry="3" fill="url(#h9)"/>
<ellipse cx="560" cy="358" rx="3" ry="3" fill="url(#h6)"/>
<ellipse cx="677.5" cy="390.6" rx="3" ry="3" fill="url(#h23)"/>
<ellipse cx="529.5" cy="680" rx="3" ry="3" fill="url(#h6)"/>
<ellipse cx="528" cy="592" rx="3" ry="3" fill="url(#h32)"/>
<ellipse cx="552" cy="608" rx="3" ry="3" fill="url(#h6)"/>
<ellipse cx="752" cy="318" rx="3" ry="3" fill="url(#h5)"/>
<ellipse cx="765" cy="322" rx="3" ry="3" fill="url(#h27)"/>
<ellipse cx="742" cy="322" rx="3" ry="3" fill="url(#h27)"/>
<ellipse cx="775" cy="330" rx="3" ry="3" fill="url(#h14)"/>
<ellipse cx="1010" cy="235" rx="3" ry="3" fill="url(#h32)"/>
<ellipse cx="820" cy="440" rx="3" ry="3" fill="url(#h27)"/>
<ellipse cx="167.6" cy="513" rx="2.5" ry="3.5" fill="url(#h19)"/>
<ellipse cx="394.8" cy="388.3" rx="2.8" ry="2.8" fill="url(#h11)"/>
<ellipse cx="89" cy="373" rx="2.5" ry="3" fill="url(#h6)"/>
<ellipse cx="657.4" cy="348.6" rx="3" ry="2.5" fill="url(#h24)"/>
<ellipse cx="602" cy="348.6" rx="3" ry="2.5" fill="url(#h25)"/>
<ellipse cx="213" cy="163" rx="2.5" ry="2.5" fill="url(#h2)"/>
<ellipse cx="209" cy="265" rx="2.5" ry="2.5" fill="url(#h2)"/>
<ellipse cx="354.2" cy="496" rx="2.5" ry="2.5" fill="url(#h14)"/>
<ellipse cx="636.6" cy="338" rx="2.5" ry="2.5" fill="url(#h6)"/>
<ellipse cx="547.8" cy="368.7" rx="2.5" ry="2.5" fill="url(#h26)"/>
<ellipse cx="675.7" cy="309.7" rx="2.5" ry="2.5" fill="url(#h24)"/>
<ellipse cx="629" cy="413" rx="2.5" ry="2.5" fill="url(#h6)"/>
<ellipse cx="613.8" cy="456.6" rx="2.5" ry="2.5" fill="url(#h27)"/>
<ellipse cx="566.8" cy="410.7" rx="2.5" ry="2.5" fill="url(#h28)"/>
<ellipse cx="535" cy="445" rx="2.5" ry="2.5" fill="url(#h32)"/>
<ellipse cx="735" cy="300" rx="2.5" ry="2.5" fill="url(#h6)"/>
</g>
</g>
<path d="M921 364 L918.5 372 L919 380 L921.5 388 L926 396 L930.5 404 L933.5 412 L936.5 419 L939 425 L941.5 419 L939.5 411 L936.5 402 L932.5 394 L928 386 L925 378 L924.5 370 L925.5 363Z" fill="#fff"/><path d="M913 395.5 L917 399 L922 406 L928 413 L932 416 L931 418 L926 415 L920 408 L915 401 L912 397Z" fill="#fff"/>
<g fill="none" stroke="#7e7f86" stroke-width="1" stroke-linejoin="round" shape-rendering="crispEdges">
<path d="M100 119 L106 121 L115 124 L125 126 L129 131 L132 127 L134 120 L137.5 114 L180 125.5 L225 136 L262 143 L300 149 L340 156 L380 162 L430 167.5 L473.75 170.5 L510 172.3 L540 173 L572.5 172.5 L573.75 163.75 L578.75 165 L580 175 L597.5 182.5 L612.5 181 L620 187.5 L632.5 191 L642.5 189 L650 192.5 L662.5 192.5 L645 206 L632.5 216 L623.75 225 L645 220 L647.5 226 L660 221 L675 215 L683.75 208.75 L695 203.75 L686 217.5 L700 220 L712.5 225 L725 220 L740 216 L755 221 L761 230 L767.5 230 L760 232.5 L747.5 235 L732.5 233.75 L717.5 240 L710 247.5 L703.75 257.5 L696 272.5 L704 262 L711 252 L708 266 L703 280 L702.5 290 L702.5 310 L706 330 L712.5 341 L720 342.5 L727.5 335 L731 320 L730 305 L725 290 L725 275 L730 260 L740 250 L743 243 L747.5 240 L760 241 L772.5 250 L776 262.5 L773.75 275 L768.75 282.5 L773.75 287.5 L785 276 L791 285 L796 300 L790 315 L783.75 330 L786 333.75 L800 337.5 L808 336.5 L815 332.5 L833.5 320.5 L846 311.5 L857.5 295 L855 285 L862.5 280 L877.5 277.5 L890 276 L900 267.5 L902.5 257.5 L897.5 255 L905 242.5 L915 230 L922.5 225 L941 222.5 L972.5 215 L975 207.5 L985 197.5 L985 177.5 L990 160 L996 147.5 L1002.5 151 L1012.5 145 L1020 148.75 L1025 162.5 L1030 177.5 L1037.5 183.75 L1040 191 L1050 197.5 L1047.5 203.75 L1037.5 207.5 L1027.5 215 L1020 212.5 L1017.5 222.5 L1010 230 L1005 237.5 L1000 247.5 L996 257.5 L1001 265 L996 272.5 L1002.5 280 L1009 281 L1015 276.5 L1018.5 278 L1019 284 L1016.5 284.5 L1015.5 280.5 L1010 284.5 L1003 286 L1000 292 L994 295 L987.5 302.5 L975 307.5 L962.5 315 L956 322.5 L957 330 L957.7 338 L955.9 354.6 L949.5 367.4 L938.6 362 L932 356.5 L940.4 371 L946.8 382 L947.7 393 L941.3 400 L940.4 416.6 L939 426 L941.5 434 L945.5 440 L938 442 L930 442 L929 446 L938 447 L946 447 L950 451 L947 457 L940 459 L930 459 L925 461 L932 465 L940 466 L944 470 L942 475 L938 480 L928 481 L923 487 L916 496.5 L915 503 L904 505.6 L896.7 514.7 L891.2 527.5 L883.9 536.6 L874.8 544 L867.5 551 L863 558.5 L860.2 571 L858.4 584 L859.3 595 L867.6 614.6 L878.6 632.9 L885.9 642 L891.3 658.4 L900.4 671 L905 682 L905.9 700 L903.2 715 L896.8 720.4 L885.9 719.5 L880.4 707.6 L870.4 704 L865.8 693 L856.7 684 L849.4 674.8 L845.7 667.5 L841.2 662 L840.3 653 L840.3 638 L834.8 633 L822 622 L813 614.6 L803.8 613.7 L798.3 619 L783.8 624.7 L774.6 613.7 L758 611 L744 611 L732 615 L726 617 L724 606 L721 616 L716 615 L706 617 L698 620 L692 630 L694 637 L706 646 L700 650 L688 640 L680 643 L672 648 L662 646 L655 639 L646 637 L638 640 L626 637 L614 635.6 L598 639 L583 646 L572 656 L560 662 L548 668 L540 672 L532 684 L528 700 L530 728 L514 724 L500 718 L486 700 L480 684 L468 668 L460 648 L444 633 L428 630 L420 633 L407 649 L394 640 L380 624 L374 606 L360 594 L350 580 L344 571 L311 573.5 L311 581 L294 581 L255 575 L177.5 537.5 L187.5 528.5 L137 523.5 L135.6 510 L128.4 497 L118.2 484 L105 473.8 L93.5 465 L81.8 459.3 L83.3 447.6 L79 434.5 L75.3 424.7 L70.6 399 L68 392 L64.7 380 L67 370.6 L62 366 L58.8 363.5 L55 340 L52 320 L50.6 304.7 L55 285 L63.5 267 L72.5 235 L85 212.5 L93.75 187.5 L98.75 167.5 L101 150 L100 130Z" stroke="#8a8a8e"/><path d="M955 325 L972.5 315 L990 308.75 L976 320 L962.5 327.5 L953.75 331Z" stroke="#8a8a8e" stroke-width="0.7"/>
<path d="M98 168 L102.5 170 L112.5 180 L117.5 192.5 L150 199 L175 197.5 L210 205"/><path d="M225 136 L210 205"/><path d="M210 205 L215 215 L197.5 242.5 L200 250 L189 297.5"/><path d="M239 140 L235 165 L255 200 L250 225 L267.5 250 L272.5 256 L295 255 L302.5 249"/><path d="M302.5 249 L291 318.5"/><path d="M64 267.5 L136 288.5 L189 297.5 L240 310 L291 318.5"/><path d="M136 288.5 L120 355 L147.5 400 L200 480"/><path d="M200 480 L202.5 495 L195 510 L187.5 528.5"/><path d="M200 480 L200 450 L210 447 L215 450"/><path d="M240 310 L222.5 400 L215 450"/><path d="M217 430 L312.5 444 L380 453.75 L426 457.5 L444.5 457.5 L585 462.5"/><path d="M291 318.5 L289 344 L324 349 L316.5 400 L312.5 444"/><path d="M312.5 444 L294 581"/><path d="M302.5 249 L380 258.75 L421 262.5"/><path d="M289 344 L324 349 L380 355.5 L414 358 L450 362"/><path d="M430 167.5 L423.75 241 L421 262.5 L418.75 310 L414 358"/><path d="M423.75 240.5 L550 245.5"/><path d="M540 173 L546 212.5 L550 245.5 L546 252.5 L551 260 L551 304"/><path d="M418.75 310 L515 317 L525 321 L540 320 L550 325"/><path d="M551 304 L548.75 312.5 L550 325 L557.5 350 L560 360 L565 375 L571 388.75 L577.5 393.75 L585 412.5 L585 462.5"/><path d="M551 304 L642.5 302"/><path d="M450 362 L448.75 385.5 L444.5 457.5"/><path d="M448.75 385.5 L570 389.5"/><path d="M426 457.5 L425 469.5 L416 577.5 L345 572.5"/><path d="M425 469.5 L482.5 472.5 L480.5 518.75 L490 523.75 L510 531 L530 537.5 L550 540 L570 536 L590 543.75 L598.75 545"/><path d="M585 462.5 L586 473.75 L590 543.75"/><path d="M598.75 545 L599.5 557 L600 580 L610 603 L606 625 L604 636"/><path d="M599.5 557 L656 555.75"/><path d="M586 473.75 L672.5 471 L668.75 481 L680 481"/><path d="M565 375.5 L637.5 372.5 L642.5 377.5"/><path d="M623.75 225 L622.5 242.5 L612.5 252.5 L615 272.5 L632.5 287.5 L642.5 302"/><path d="M642.5 302 L646 320 L655 326 L663.75 342.5 L650 352 L650 365 L641 377.5 L643.75 390 L657.5 407.5 L667.5 415 L666 427.5 L680 440 L687.5 456 L685 467.5 L680 487.5 L673.75 502.5 L666 515 L660 532.5 L655 545 L657.5 557.5 L660 572.5 L652.5 590 L650 603"/><path d="M650 603.5 L687.5 602.5 L687 612 L694 622"/><path d="M655 326 L705 322.5"/><path d="M650 226 L692.5 240 L700 255 L696 265"/><path d="M711 342 L716 410 L708.75 435 L705 447.5 L691 455"/><path d="M687.5 456 L695 450 L705 450 L710 435 L730 431 L740 425 L752.5 417.5 L766 405 L770 397.5 L785 406 L802.5 403.75 L810 410 L817.5 397.5 L827.5 385 L837.5 375 L839.5 357.5"/><path d="M712 342 L760 335 L786 333.75"/><path d="M760 335 L767 400"/><path d="M810 410 L822.5 430 L800 452.5"/><path d="M683.75 468.75 L711 467 L711 463 L780 455 L833 448 L905 440 L940 433"/><path d="M822.5 430 L837.5 435 L852.5 425 L865 400 L877.5 377.5 L882.5 370 L895 372 L902.5 377.5"/><path d="M841 372.5 L905 361 L932 357"/><path d="M862.5 369 L863.5 381 L877.5 377.5"/><path d="M902.5 377.5 L912 385 L918 397 L927 405"/><path d="M932 357 L936 383 L947 383"/><path d="M937 403 L945 401"/><path d="M672.5 506 L713.75 503.75 L762.5 499.5 L787.5 497 L808.75 494.5"/><path d="M787.5 497 L795 485 L815 472.5 L832.5 455 L835 449"/><path d="M808.75 494.5 L822.5 487.5 L851 484.7 L856.6 490 L878.5 487.4 L904 505.6"/><path d="M808.75 494.5 L820 512.5 L838 525.7 L853 542 L860 556.7"/><path d="M713.75 503.75 L712.5 565 L717 615"/><path d="M762.5 499.5 L782.5 560 L781 575 L786 594"/><path d="M736 613 L732.5 600 L786 594 L788.3 600 L844 596.8 L846.7 601 L848.5 590 L859 590"/><path d="M834 321 L839.5 357.5 L841 372.5"/><path d="M846 315 L925 301 L930 307.5 L936 313.75"/><path d="M936 313.75 L933.75 330 L940 342 L932 356"/><path d="M936 313.75 L952.5 320"/><path d="M941 222.5 L946 240 L952.5 260 L956 275"/><path d="M956 275 L957.5 292.5 L960 315"/><path d="M972.5 215 L973.75 227.5 L968.75 237.5 L966 255 L968.75 271"/><path d="M977.5 207.5 L990 240 L996 257.5"/><path d="M956 275 L995 265"/><path d="M957.5 292.5 L992.5 285"/><path d="M986 286.5 L988.75 300"/><path d="M946 440 L951 447 L955 455 L956 462 L950 468 L943 475" stroke="#8a8a8e" stroke-width="0.8"/></g>
<g fill="none" stroke="#838383" stroke-width="1" stroke-linejoin="round" shape-rendering="crispEdges"><path d="M67.5 61 L77.5 70 L81 80 L89 87.5 L94 96 L100 104 L97.5 107.5 L115 122.5 L122.5 124 L124 115 L120 107.5 L106 97.5 L102.5 87.5 L94 72.5 L90 61"/><path d="M102.5 61 L108 66 L112.5 75 L111 82 L115 87.5 L120 86 L125 94 L127.5 82.5 L128.75 95 L133.75 97.5 L132.5 107.5 L137.5 112.5"/><path d="M232.5 61 L240 70 L250 80 L257.5 97.5 L266 107.5 L265 130 L272.5 144"/><path d="M350 61 L336 155"/><path d="M474 61 L474 170"/><path d="M595 61 L572.5 82.5 L572.5 172.5"/><path d="M662.5 192.5 L670 181 L685 167.5 L712.5 170 L725 187.5 L740 188.75 L740 200 L747.5 205 L750 220 L757.5 223.75 L775 226 L800 225 L815 225"/><path d="M775 231 L790 229 L800 232 L790 235 L775 231"/><path d="M800 227.5 L815 233 L827.5 242.5 L837.5 250 L826 246 L815 247.5 L810 260 L807.5 285 L800 300 L795 310"/><path d="M790 318 L795 322.5 L815 310 L840 300 L855 295"/><path d="M855 285 L845 282.5 L850 272.5 L875 262.5 L896 256.5"/><path d="M765 61 L775 77.5 L783 80 L795 95 L810 97.5 L812.5 80 L818 82 L825 72.5 L822.5 61"/><path d="M810 97.5 L825 150 L830 190 L838 203 L850 210 L868 215 L880 222 L895 222.5 L910 220 L922.5 215 L925 227.5"/><path d="M957 132.6 L965 132 L977.6 133.7 L982 128 L989 113.7 L998 100.8 L1008.7 95.6 L1010 86 L1011 78.8 L1016 72.3 L1025 68 L1034.5 64.6 L1042 62"/><path d="M1048.8 69.8 L1065.6 65.4 L1086 65.9 L1096.6 71 L1081 76 L1060 75 L1048.8 69.8"/><path d="M964.7 173 L968 166 L972 159 L980 141 L985 129 L995.7 116 L1013.8 103 L1034.5 90 L1047.5 87 L1056 88.5 L1060 91.7 L1063 99.5 L1055 113.7 L1047 117.5 L1039.7 116 L1032 121.5 L1021.6 129 L1008.7 129 L1003.5 134 L1003.5 143.5 L999 149"/><path d="M1061 117 L1063 115 L1060 135.7 L1066 143 L1070.8 148.7 L1076 152 L1081 159 L1078 164 L1065.6 179.7 L1058 185 L1050 190"/><path d="M1076 132 L1078 139 L1081 143.5 L1090 143 L1100 141"/><path d="M1076 132 L1082 134 L1090 137 L1100 136"/><path d="M1076 174.5 L1081 170 L1086 166.8 L1093 165 L1100 164"/><path d="M1078 162 L1086 154 L1100 151"/><path d="M1065.6 195 L1064 203 L1068 213 L1074 218 L1078.5 221 L1083 214 L1086 208 L1090 199 L1094 190 L1100 183.6"/><path d="M1065.6 195 L1070 190 L1076 186"/><path d="M127 126 L125 134 L121 141 L119.5 149 L123 154.5 L128 152 L131 145 L133 138 L134 128"/><path d="M126 138 L124 146 L127 150 L129 143 L126 138"/><path d="M82 473.5 L87 473 L88 475.5 L83 476 L82 473.5"/><path d="M91 474 L97 474.5 L97 476.5 L92 476 L91 474"/><path d="M112 494 L115 495 L117 499 L114 498 L112 494"/><path d="M109 504 L112 506 L113.5 510 L111 509 L109 504"/><path d="M135 525 L145 560 L150 590 L170 620 L155 642.5 L190 672.5 L207.5 700 L205 725 L235 755 L245 777.5 L257.5 770 L250 745 L235 735 L227.5 700 L215 675 L205 645 L190 605 L175 570 L177.5 537.5"/><path d="M155 642.5 L203 647"/><path d="M177.5 550 L205 565 L215 610 L245 655 L270 690 L270 710 L300 745 L330 787.5"/><path d="M295 582.5 L300 610 L292.5 650 L282.5 655 L290 685 L272.5 700"/><path d="M290 685 L305 690 L317.5 720 L345 695 L375 707.5 L395 700 L390 672.5 L410 649"/><path d="M395 700 L400 715 L395 740 L415 750 L385 770 L375 787.5"/><path d="M317.5 720 L330 750 L345 787.5"/><path d="M415 745 L450 755 L465 742.5 L447.5 715 L467.5 682.5 L480 690"/><path d="M452 757 L460 787.5"/><path d="M480 760 L500 745 L505 720"/><path d="M520 787.5 L522.5 750 L531 727.5"/><path d="M480 760 L478 787.5"/></g>
<rect x="970" y="400" width="20" height="339.8" fill="url(#lg)"/>
<g stroke="#111" stroke-width="2"><line x1="989.5" x2="1000" y1="399.50" y2="399.50"/><line x1="989.5" x2="1000" y1="433.43" y2="433.43"/><line x1="989.5" x2="1000" y1="467.36" y2="467.36"/><line x1="989.5" x2="1000" y1="501.29" y2="501.29"/><line x1="989.5" x2="1000" y1="535.22" y2="535.22"/><line x1="989.5" x2="1000" y1="569.15" y2="569.15"/><line x1="989.5" x2="1000" y1="603.08" y2="603.08"/><line x1="989.5" x2="1000" y1="637.01" y2="637.01"/><line x1="989.5" x2="1000" y1="670.94" y2="670.94"/><line x1="989.5" x2="1000" y1="704.87" y2="704.87"/><line x1="989.5" x2="1000" y1="738.80" y2="738.80"/></g>
<g class="sans" font-size="21.3" stroke="#111" stroke-width="0.5"><text x="1005" y="405.70">0</text><text x="1005" y="439.63">1</text><text x="1005" y="473.56">2</text><text x="1005" y="507.49">3</text><text x="1005" y="541.42">4</text><text x="1005" y="575.35">5</text><text x="1005" y="609.28">6</text><text x="1005" y="643.21">7</text><text x="1005" y="677.14">8</text><text x="1005" y="711.07">9</text><text x="1005" y="745.00">&gt;10</text></g>
<text class="sans" x="970.2" y="352.5" font-size="24.8" stroke="#111" stroke-width="0.7">Dry oxN</text>
<text class="sans" x="970" y="374.5" font-size="20" stroke="#111" stroke-width="0.7">(kg-N/ha)</text>
<text class="serif" x="701" y="800" font-size="24.5">Dry deposition of oxidized N 2002</text>
<text class="serif" x="909.5" y="830" font-size="20.3">USEPA 08/28/18</text>
<text class="serif" x="49" y="830" font-size="19.9">Source: CASTNET/CMAQ/NADP</text>
</svg>
</body></html>
